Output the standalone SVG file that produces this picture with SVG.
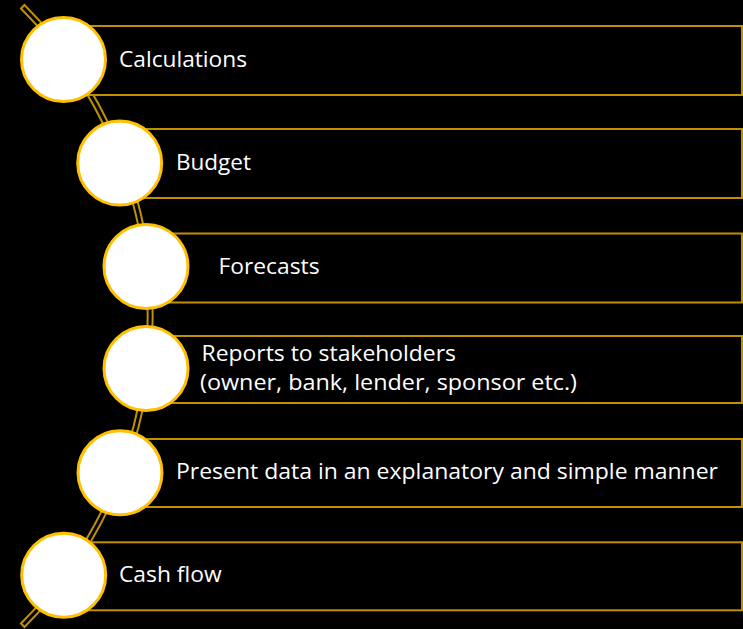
<svg xmlns="http://www.w3.org/2000/svg" width="743" height="629" viewBox="0 0 743 629">
  <style>
    .bar { fill: #000000; stroke: #BF9000; stroke-width: 2; }
    .dot { fill: #FFFFFF; stroke: #FFC000; stroke-width: 3; }
    .lbl { fill: #FFFFFF; font-family: "Open Sans", "Noto Sans", "Liberation Sans", sans-serif; font-size: 22px; }
    .bandOuter { fill: none; stroke: #BF9000; stroke-width: 7; }
    .bandInner { fill: none; stroke: #000000; stroke-width: 3; }
  </style>
  <rect x="0" y="0" width="743" height="629" fill="#000000"/>
  <g id="connectors">
    <path class="bandOuter" d="M22,6 A439,439 0 0,1 22,626"/>
    <path class="bandInner" d="M23.5,7.5 A439,439 0 0,1 23.5,624.5"/>
  </g>
  <g id="node-calculations">
    <rect class="bar" x="64" y="26" width="678" height="69"/>
    <circle class="dot" cx="63.5" cy="59.5" r="42"/>
    <text class="lbl" x="119" y="66.5" textLength="128" lengthAdjust="spacingAndGlyphs">Calculations</text>
  </g>
  <g id="node-budget">
    <rect class="bar" x="120" y="129" width="622" height="69"/>
    <circle class="dot" cx="119.7" cy="163" r="42"/>
    <text class="lbl" x="176" y="170" textLength="75" lengthAdjust="spacingAndGlyphs">Budget</text>
  </g>
  <g id="node-forecasts">
    <rect class="bar" x="146" y="233.5" width="596" height="69"/>
    <circle class="dot" cx="146" cy="266.5" r="42"/>
    <text class="lbl" x="218.5" y="274.3" textLength="101" lengthAdjust="spacingAndGlyphs">Forecasts</text>
  </g>
  <g id="node-reports">
    <rect class="bar" x="146" y="336" width="596" height="67"/>
    <circle class="dot" cx="146" cy="368.5" r="42"/>
    <text class="lbl" x="201.5" y="361" textLength="254.5" lengthAdjust="spacingAndGlyphs">Reports to stakeholders</text>
    <text class="lbl" x="200" y="389.5" textLength="377" lengthAdjust="spacingAndGlyphs">(owner, bank, lender, sponsor etc.)</text>
  </g>
  <g id="node-present">
    <rect class="bar" x="120" y="439" width="622" height="68"/>
    <circle class="dot" cx="120" cy="472.8" r="42"/>
    <text class="lbl" x="176" y="478.5" textLength="542" lengthAdjust="spacingAndGlyphs">Present data in an explanatory and simple manner</text>
  </g>
  <g id="node-cashflow">
    <rect class="bar" x="64" y="542.3" width="678" height="68"/>
    <circle class="dot" cx="63.7" cy="575.2" r="42"/>
    <text class="lbl" x="119" y="582.3" textLength="102.7" lengthAdjust="spacingAndGlyphs">Cash flow</text>
  </g>
</svg>
